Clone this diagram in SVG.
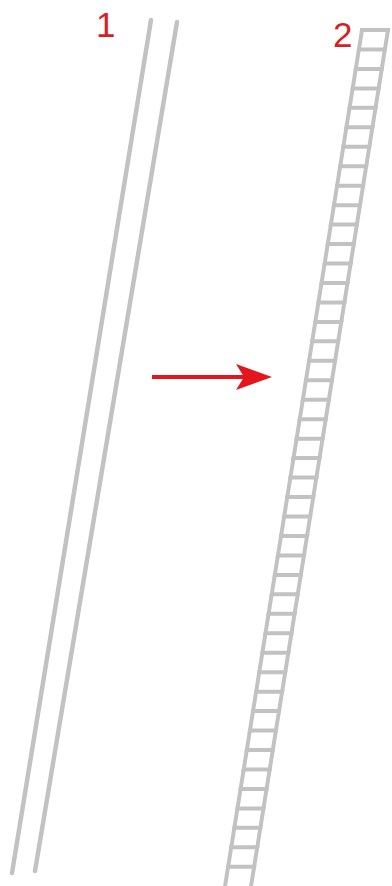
<svg xmlns="http://www.w3.org/2000/svg" width="392" height="886" viewBox="0 0 392 886">
  <style>
    .label { font-family: "Liberation Sans", Arial, sans-serif; font-size: 35px; fill: #d81e25; }
    .pole { stroke: #c2c2c2; stroke-width: 4.5; fill: none; stroke-linecap: round; }
    .ladder { stroke: #c2c2c2; stroke-width: 4; fill: none; stroke-linecap: square; }
    .arrow { stroke: #e3161d; stroke-width: 4; fill: none; }
  </style>
  <defs>
    <marker id="head" markerUnits="userSpaceOnUse" markerWidth="40" markerHeight="30" refX="8" refY="13" orient="auto">
      <path d="M0 0 L36 13 L0 26 L8 13 Z" fill="#e3161d"/>
    </marker>
  </defs>
  <g id="node-1">
    <text class="label" x="96" y="37">1</text>
    <line class="pole" x1="151" y1="20" x2="12" y2="873"/>
    <line class="pole" x1="177" y1="22" x2="35" y2="871"/>
  </g>
  <g id="node-2">
    <text class="label" x="333" y="47">2</text>
    <g transform="translate(362,30) skewX(-9.09)">
      <path class="ladder" d="M0 0 V870 M26 0 V870"/>
      <path class="ladder" d="M0 0 h26 M0 19.46 h26 M0 38.92 h26 M0 58.38 h26 M0 77.84 h26 M0 97.3 h26 M0 116.76 h26 M0 136.22 h26 M0 155.68 h26 M0 175.14 h26 M0 194.6 h26 M0 214.06 h26 M0 233.52 h26 M0 252.98 h26 M0 272.44 h26 M0 291.9 h26 M0 311.36 h26 M0 330.82 h26 M0 350.28 h26 M0 369.74 h26 M0 389.2 h26 M0 408.66 h26 M0 428.12 h26 M0 447.58 h26 M0 467.04 h26 M0 486.5 h26 M0 505.96 h26 M0 525.42 h26 M0 544.88 h26 M0 564.34 h26 M0 583.8 h26 M0 603.26 h26 M0 622.72 h26 M0 642.18 h26 M0 661.64 h26 M0 681.1 h26 M0 700.56 h26 M0 720.02 h26 M0 739.48 h26 M0 758.94 h26 M0 778.4 h26 M0 797.86 h26 M0 817.32 h26 M0 836.78 h26"/>
    </g>
  </g>
  <g id="connectors">
    <line class="arrow" x1="152" y1="377" x2="244" y2="377" marker-end="url(#head)"/>
  </g>
</svg>
